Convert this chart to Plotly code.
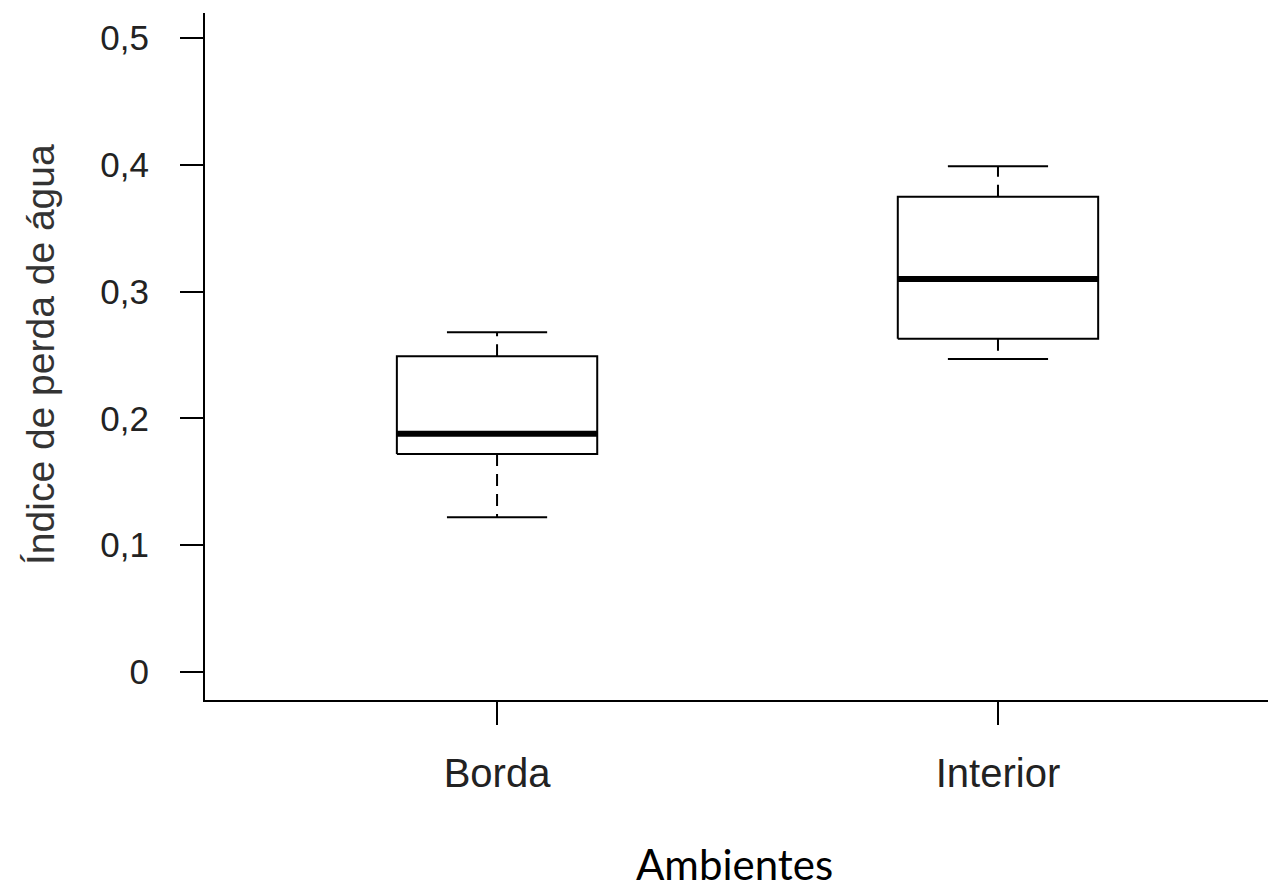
import plotly.graph_objects as go

categories = ["Borda", "Interior"]
positions = [1, 2]
lower_whisker = [0.122, 0.247]
q1 = [0.172, 0.263]
median = [0.188, 0.310]
q3 = [0.249, 0.375]
upper_whisker = [0.268, 0.399]
y_ticks = [0, 0.1, 0.2, 0.3, 0.4, 0.5]
y_tick_labels = ["0", "0,1", "0,2", "0,3", "0,4", "0,5"]

BOX_HW = 0.2
CAP_HW = 0.1

fig = go.Figure()
for i, x in enumerate(positions):
    # whiskers (dashed)
    fig.add_trace(go.Scatter(x=[x, x, None, x, x],
                             y=[q3[i], upper_whisker[i], None, q1[i], lower_whisker[i]],
                             mode="lines", line=dict(color="black", width=2, dash="12px,8px"),
                             hoverinfo="skip", showlegend=False))
    # caps
    fig.add_trace(go.Scatter(x=[x - CAP_HW, x + CAP_HW, None, x - CAP_HW, x + CAP_HW],
                             y=[upper_whisker[i], upper_whisker[i], None, lower_whisker[i], lower_whisker[i]],
                             mode="lines", line=dict(color="black", width=2),
                             hoverinfo="skip", showlegend=False))
    # box
    fig.add_trace(go.Scatter(x=[x - BOX_HW, x + BOX_HW, x + BOX_HW, x - BOX_HW, x - BOX_HW],
                             y=[q1[i], q1[i], q3[i], q3[i], q1[i]],
                             mode="lines", fill="toself", fillcolor="white",
                             line=dict(color="black", width=2),
                             hoverinfo="skip", showlegend=False))
    # median
    fig.add_trace(go.Scatter(x=[x - BOX_HW, x + BOX_HW], y=[median[i], median[i]],
                             mode="lines", line=dict(color="black", width=6),
                             hoverinfo="skip", showlegend=False))

# the page body has an 8px margin; figure is sized to fill the rest
OFF = 8
W, H = 1276 - OFF, 891 - OFF
ML, MR, MT = 205 - OFF, 0, 13 - OFF
MB = H - (700 - OFF)
PW, PH = W - ML - MR, H - MT - MB


def px_to_paper_x(px):
    return (px - OFF - ML) / PW


def px_to_paper_y(py):
    return ((H - MB) - (py - OFF)) / PH


fig.update_layout(
    width=W, height=H,
    margin=dict(l=ML, r=MR, t=MT, b=MB, pad=0),
    plot_bgcolor="white", paper_bgcolor="white",
    font=dict(family="Liberation Sans, Arial, sans-serif", color="#222222"),
    xaxis=dict(range=[0.417, 2.555], tickvals=positions, ticktext=categories,
               showgrid=False, zeroline=False, showline=True, linecolor="black", linewidth=2,
               ticks="outside", ticklen=23, tickwidth=2, tickcolor="black",
               tickfont=dict(size=40, color="#222222"), ticklabelstandoff=14),
    yaxis=dict(range=[-0.0221, 0.5199], tickvals=y_ticks, ticktext=y_tick_labels,
               showgrid=False, zeroline=False, showline=True, linecolor="black", linewidth=2,
               ticks="outside", ticklen=23, tickwidth=2, tickcolor="black",
               tickfont=dict(size=35, color="#222222"), ticklabelstandoff=24),
    annotations=[
        dict(text="Ambientes", xref="paper", yref="paper",
             x=px_to_paper_x(734), y=px_to_paper_y(864),
             xanchor="center", yanchor="middle", showarrow=False,
             font=dict(family="Lato, sans-serif", size=42, color="black")),
        dict(text="Índice de perda de água", xref="paper", yref="paper",
             x=px_to_paper_x(40), y=px_to_paper_y(355),
             xanchor="center", yanchor="middle", textangle=-90, showarrow=False,
             font=dict(family="Liberation Sans, Arial, sans-serif", size=39, color="#333333")),
    ],
)

fig.write_html("out.html")
